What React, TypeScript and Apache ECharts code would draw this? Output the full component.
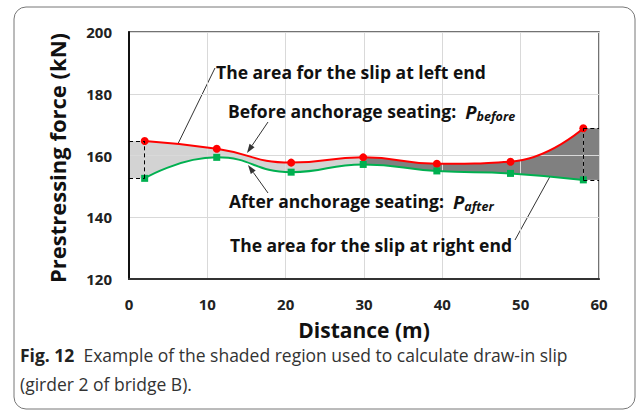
import React, { useEffect, useRef } from "react";
import * as echarts from "echarts";

// ---- data ----
const distances = [2.0, 11.2, 20.7, 29.9, 39.3, 48.7, 58.0];
const forceBefore = [164.7, 162.2, 157.7, 159.4, 157.3, 158.0, 168.8];
const forceAfter = [152.6, 159.4, 154.6, 157.1, 155.0, 154.2, 152.1];
const xTicks = { min: 0, max: 60, interval: 10 };
const yTicks = { min: 120, max: 200, interval: 20 };
const splitIndex = 3; // left-end shaded region ends at this point

const FONT = "'Open Sans', 'Noto Sans', sans-serif";
const LIGHT = "#d3d3d3";
const DARK = "#808080";

function arrow(x1: number, y1: number, x2: number, y2: number) {
  const ang = Math.atan2(y2 - y1, x2 - x1);
  const len = 9;
  const hw = 3;
  const bx = x2 - len * Math.cos(ang);
  const by = y2 - len * Math.sin(ang);
  const px = -Math.sin(ang) * hw;
  const py = Math.cos(ang) * hw;
  return {
    type: "group",
    z: 20,
    children: [
      { type: "line", shape: { x1, y1, x2: bx, y2: by }, style: { stroke: "#333", lineWidth: 1 } },
      {
        type: "polygon",
        shape: { points: [[x2, y2], [bx + px, by + py], [bx - px, by - py]] },
        style: { fill: "#333" },
      },
    ],
  };
}

export default function App() {
  const ref = useRef<HTMLDivElement>(null);
  useEffect(() => {
    if (!ref.current) return;
    const chart = echarts.init(ref.current, undefined, { renderer: "svg" });
    const beforePts = distances.map((x, i) => [x, forceBefore[i]]);
    const afterPts = distances.map((x, i) => [x, forceAfter[i]]);
    // value first so that the stack runs on the y dimension
    const baseYX = distances.map((x, i) => [forceAfter[i], x]);
    const diffYX = distances.map((x, i) => [forceBefore[i] - forceAfter[i], x]);
    const n = distances.length;
    const stop = (distances[splitIndex] - distances[0]) / (distances[n - 1] - distances[0]);
    const grad = new echarts.graphic.LinearGradient(0, 0, 1, 0, [
      { offset: 0, color: LIGHT },
      { offset: stop, color: LIGHT },
      { offset: stop, color: DARK },
      { offset: 1, color: DARK },
    ]);
    const x0 = distances[0];
    const xn = distances[n - 1];
    const dashed = [
      [{ coord: [x0, forceAfter[0]] }, { coord: [x0, forceBefore[0]] }],
      [{ coord: [xTicks.min, forceBefore[0]] }, { coord: [x0, forceBefore[0]] }],
      [{ coord: [xTicks.min, forceAfter[0]] }, { coord: [x0, forceAfter[0]] }],
      [{ coord: [xn, forceAfter[n - 1]] }, { coord: [xn, forceBefore[n - 1]] }],
      [{ coord: [xn, forceBefore[n - 1]] }, { coord: [xTicks.max, forceBefore[n - 1]] }],
      [{ coord: [xn, forceAfter[n - 1]] }, { coord: [xTicks.max, forceAfter[n - 1]] }],
    ];
    const labelStyle = { fontFamily: FONT, fontWeight: "bold", fontSize: 15, color: "#222" };
    const annFont = { fontFamily: FONT, fontWeight: "bold", fontSize: 17.5, fill: "#111" };
    const rich = {
      t: { fontFamily: FONT, fontWeight: "bold", fontSize: 17.5, fill: "#111", lineHeight: 24 },
      p: { fontFamily: FONT, fontWeight: "bold", fontStyle: "italic", fontSize: 18.5, fill: "#111", lineHeight: 24 },
      s: { fontFamily: FONT, fontWeight: "bold", fontStyle: "italic", fontSize: 12.5, fill: "#111", lineHeight: 13, verticalAlign: "bottom" },
    };
    chart.setOption({
      animation: false,
      grid: { left: 129, right: 38, top: 32, bottom: 133, show: true, borderColor: "#444", borderWidth: 1.5 },
      xAxis: {
        type: "value",
        ...xTicks,
        z: 2,
        axisLine: { show: true, onZero: false, lineStyle: { color: "#333", width: 2 } },
        axisTick: { show: false },
        axisLabel: { ...labelStyle, margin: 17 },
        splitLine: { lineStyle: { color: "#d9d9d9", width: 1 } },
      },
      yAxis: {
        type: "value",
        ...yTicks,
        z: 2,
        axisLine: { show: true, onZero: false, lineStyle: { color: "#111", width: 2 } },
        axisTick: { show: false },
        axisLabel: { ...labelStyle, margin: 17 },
        splitLine: { lineStyle: { color: "#d9d9d9", width: 1 } },
      },
      series: [
        {
          type: "line",
          stack: "slip",
          data: baseYX,
          encode: { x: 1, y: 0 },
          smooth: 0.5,
          symbol: "none",
          lineStyle: { width: 0, opacity: 0 },
          silent: true,
          z: 1,
        },
        {
          type: "line",
          stack: "slip",
          data: diffYX,
          encode: { x: 1, y: 0 },
          smooth: 0.5,
          symbol: "none",
          lineStyle: { width: 0, opacity: 0 },
          areaStyle: { color: grad, opacity: 1 },
          silent: true,
          z: 1,
        },
        {
          type: "line",
          data: beforePts,
          smooth: 0.5,
          symbol: "circle",
          symbolSize: 8,
          itemStyle: { color: "#ff0000" },
          lineStyle: { color: "#ff0000", width: 2 },
          z: 3,
          markArea: {
            silent: true,
            z: 1,
            itemStyle: { color: LIGHT, opacity: 1 },
            data: [
              [{ coord: [xTicks.min, forceAfter[0]], itemStyle: { color: LIGHT } }, { coord: [x0, forceBefore[0]] }],
              [{ coord: [xn, forceAfter[n - 1]], itemStyle: { color: DARK } }, { coord: [xTicks.max, forceBefore[n - 1]] }],
            ],
          },
          markLine: {
            silent: true,
            symbol: "none",
            label: { show: false },
            lineStyle: { type: [4, 3], color: "#000", width: 1 },
            data: dashed,
          },
        },
        {
          type: "line",
          data: afterPts,
          smooth: 0.5,
          symbol: "rect",
          symbolSize: 7,
          itemStyle: { color: "#00b050" },
          lineStyle: { color: "#00b050", width: 2 },
          z: 3,
        },
      ],
      graphic: [
        {
          type: "rect",
          z: -10,
          shape: { x: 14, y: 7, width: 621, height: 402, r: 12 },
          style: { fill: "none", stroke: "#777", lineWidth: 1 },
        },
        {
          type: "text",
          z: 20,
          x: 57,
          y: 158,
          rotation: Math.PI / 2,
          style: { text: "Prestressing force (kN)", fontFamily: FONT, fontWeight: "bold", fontSize: 22, fill: "#111", align: "center", verticalAlign: "middle" },
        },
        {
          type: "text",
          z: 20,
          x: 364,
          y: 330,
          style: { text: "Distance (m)", fontFamily: FONT, fontWeight: "bold", fontSize: 21, fill: "#111", align: "center", verticalAlign: "middle" },
        },
        {
          type: "text",
          z: 20,
          x: 216,
          y: 72,
          style: { text: "The area for the slip at left end", ...annFont, verticalAlign: "middle" },
        },
        {
          type: "text",
          z: 20,
          x: 228,
          y: 111,
          style: { text: "{t|Before anchorage seating:  }{p|P}{s|before}", rich, verticalAlign: "middle" },
        },
        {
          type: "text",
          z: 20,
          x: 229,
          y: 201,
          style: { text: "{t|After anchorage seating:  }{p|P}{s|after}", rich, verticalAlign: "middle" },
        },
        {
          type: "text",
          z: 20,
          x: 230,
          y: 245,
          style: { text: "The area for the slip at right end", ...annFont, verticalAlign: "middle" },
        },
        arrow(215, 68, 172, 156),
        arrow(268, 122, 247, 153),
        arrow(268, 193, 248, 165),
        arrow(515, 240, 558, 162),
        {
          type: "text",
          z: 20,
          x: 20,
          y: 355,
          style: {
            text: "{b|Fig. 12}  Example of the shaded region used to calculate draw-in slip",
            fontFamily: FONT,
            fontSize: 17.5,
            fill: "#333",
            verticalAlign: "middle",
            rich: { b: { fontFamily: FONT, fontWeight: "bold", fontSize: 17.5, fill: "#222" } },
          },
        },
        {
          type: "text",
          z: 20,
          x: 20,
          y: 384,
          style: { text: "(girder 2 of bridge B).", fontFamily: FONT, fontSize: 17.5, fill: "#333", verticalAlign: "middle" },
        },
      ],
    });
    return () => chart.dispose();
  }, []);
  return (
    <div
      ref={ref}
      style={{ position: "fixed", left: 0, top: 0, width: 637, height: 412, background: "#fff" }}
    />
  );
}
